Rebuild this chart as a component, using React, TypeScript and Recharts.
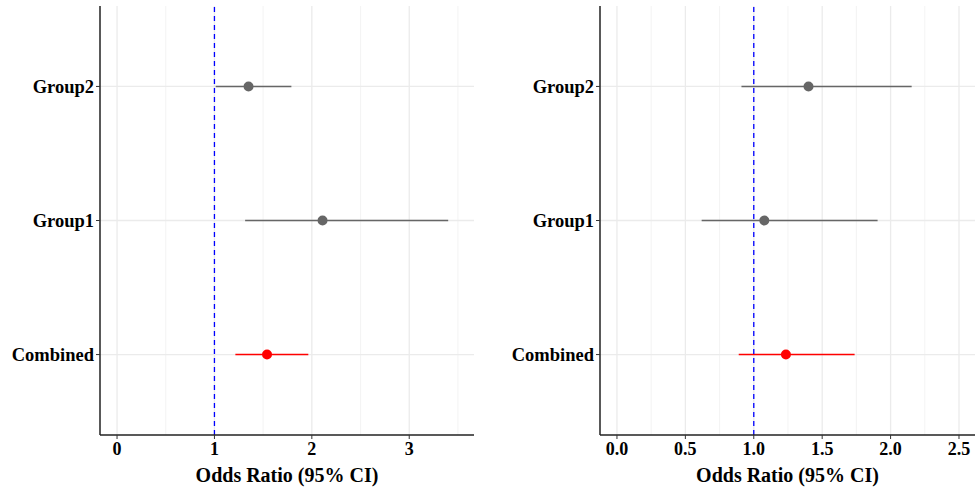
import { ComposedChart, ErrorBar, Label, ReferenceLine, Scatter, XAxis, YAxis } from "recharts";

const rowLabels = ["Combined", "Group1", "Group2"];

// left panel
const leftOR = [1.54, 2.11, 1.35];
const leftLow = [1.215, 1.315, 1.013];
const leftHigh = [1.964, 3.4, 1.79];
const leftTicks = [0, 1, 2, 3];
const leftMinor = [0.5, 1.5, 2.5, 3.5];

// right panel
const rightOR = [1.235, 1.077, 1.4];
const rightLow = [0.89, 0.619, 0.91];
const rightHigh = [1.737, 1.905, 2.154];
const rightTicks = [0, 0.5, 1, 1.5, 2, 2.5];
const rightMinor = [0.25, 0.75, 1.25, 1.75, 2.25];

const font = "'Liberation Serif', 'Times New Roman', serif";

function buildRows(or: number[], lo: number[], hi: number[]) {
    return rowLabels.map((name, i) => ({
        name,
        row: i + 1,
        or: or[i],
        err: [or[i] - lo[i], hi[i] - or[i]],
    }));
}

const dot = (color: string) => (props: any) => <circle cx={props.cx} cy={props.cy} r={5} fill={color} />;

interface PanelProps {
    width: number;
    axisWidth: number;
    rightMargin: number;
    domain: [number, number];
    ticks: number[];
    minor: number[];
    decimals: number;
    or: number[];
    lo: number[];
    hi: number[];
}

function ForestPanel(p: PanelProps) {
    const rows = buildRows(p.or, p.lo, p.hi);
    const groups = rows.filter((r) => r.name !== "Combined");
    const combined = rows.filter((r) => r.name === "Combined");

    return (
        <ComposedChart width={p.width} height={493} margin={{ top: 6, right: p.rightMargin, bottom: 0, left: 0 }}>
            <XAxis
                type="number"
                dataKey="or"
                domain={p.domain}
                ticks={p.ticks}
                allowDataOverflow
                tickFormatter={(v) => Number(v).toFixed(p.decimals)}
                height={58}
                tickSize={4}
                tickMargin={3}
                tickLine={{ stroke: "#333333" }}
                axisLine={{ stroke: "#222222", strokeWidth: 1.5 }}
                tick={{ fill: "#000", fontFamily: font, fontWeight: 700, fontSize: 18 }}
            >
                <Label
                    value="Odds Ratio (95% CI)"
                    position="insideBottom"
                    offset={11}
                    style={{ fill: "#000", fontFamily: font, fontWeight: 700, fontSize: 20 }}
                />
            </XAxis>
            <YAxis
                type="number"
                dataKey="row"
                domain={[0.4, 3.6]}
                ticks={[1, 2, 3]}
                allowDataOverflow
                width={p.axisWidth}
                tickFormatter={(v) => rowLabels[Number(v) - 1]}
                tickSize={4}
                tickLine={{ stroke: "#333333" }}
                axisLine={{ stroke: "#222222", strokeWidth: 1.5 }}
                tick={{ fill: "#000", fontFamily: font, fontWeight: 700, fontSize: 18.5 }}
            />

            {p.minor.map((v) => (
                <ReferenceLine key={"m" + v} x={v} stroke="#f0f0f0" strokeWidth={0.8} />
            ))}
            {p.ticks.map((v) => (
                <ReferenceLine key={"M" + v} x={v} stroke="#ebebeb" strokeWidth={1.3} />
            ))}
            {[1, 2, 3].map((v) => (
                <ReferenceLine key={"h" + v} y={v} stroke="#ebebeb" strokeWidth={1.3} />
            ))}

            <Scatter data={groups} dataKey="row" shape={dot("#666666")} isAnimationActive={false}>
                <ErrorBar dataKey="err" direction="x" width={0} stroke="#666666" strokeWidth={1.5} />
            </Scatter>
            <Scatter data={combined} dataKey="row" shape={dot("#ff0000")} isAnimationActive={false}>
                <ErrorBar dataKey="err" direction="x" width={0} stroke="#ff0000" strokeWidth={1.5} />
            </Scatter>

            <ReferenceLine x={1} stroke="#0000ff" strokeDasharray="5 4" strokeWidth={1.3} />
        </ComposedChart>
    );
}

export default function App() {
    return (
        <div style={{ position: "absolute", left: 0, top: 0, width: 976, height: 493, background: "#fff", display: "flex" }}>
            <ForestPanel
                width={490}
                axisWidth={100}
                rightMargin={16}
                domain={[-0.175, 3.665]}
                ticks={leftTicks}
                minor={leftMinor}
                decimals={0}
                or={leftOR}
                lo={leftLow}
                hi={leftHigh}
            />
            <ForestPanel
                width={486}
                axisWidth={110}
                rightMargin={1}
                domain={[-0.124, 2.617]}
                ticks={rightTicks}
                minor={rightMinor}
                decimals={1}
                or={rightOR}
                lo={rightLow}
                hi={rightHigh}
            />
        </div>
    );
}
